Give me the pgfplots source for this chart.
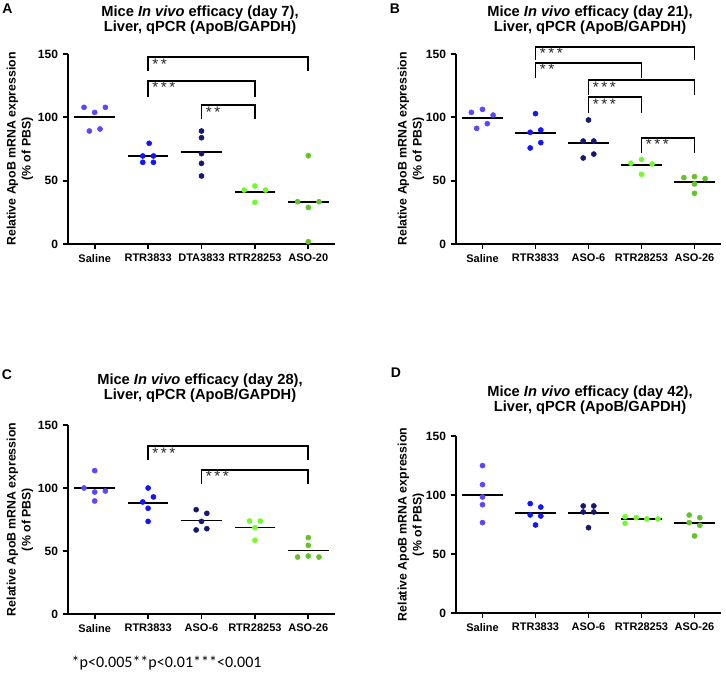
\documentclass[border=0pt]{standalone}
\usepackage{pgfplots}
\pgfplotsset{compat=1.18}
\usepackage{fontspec}
\setmainfont{Liberation Sans}
\newfontfamily\calibri{Carlito}
\definecolor{cSal}{RGB}{90,70,255}
\definecolor{cRTR}{RGB}{20,20,250}
\definecolor{cNavy}{RGB}{22,22,115}
\definecolor{cLG}{RGB}{115,250,45}
\definecolor{cG}{RGB}{100,195,40}
\pgfplotsset{
 panel/.style={scale only axis, anchor=south west,
  xmin=-0.5, xmax=4.5, ymin=0, ymax=150,
  ytick={0,50,100,150}, xtick={0,1,2,3,4},
  axis x line*=bottom, axis y line*=left,
  axis line style={-, line width=1.5pt},
  tick style={black, line width=1.3pt}, major tick length=4pt, tick align=outside,
  clip=false,
  /pgf/number format/assume math mode=true,
  yticklabel style={font=\bfseries\fontsize{9}{10}\selectfont},
  xticklabel style={font=\bfseries\fontsize{8.25}{9}\selectfont},
  ylabel={Relative ApoB mRNA expression\\(\% of PBS)},
  ylabel style={font=\bfseries\fontsize{9.25}{11.25}\selectfont, align=center,
     at={(axis description cs:-0.18,0.5)}, anchor=center},
 },
 dots/.style={only marks, mark=*, mark size=1.9pt, color=#1, mark options={draw=#1, fill=#1}},
 mean/.style={black, line width=1.3pt, mark=none},
 br/.style={black, line width=1.4pt, mark=none},
}
\newcommand\stars[3]{\node[anchor=north west, inner sep=1pt, xshift=2pt, font=\fontsize{11.5}{11.5}\selectfont, text=black!85] at (axis cs:#1,#2) {#3};}
\tikzset{ttl/.style={align=center, font=\bfseries\fontsize{11}{11.25}\selectfont}}
\newcommand\ttl[1]{Mice \textit{In vivo} efficacy (day #1),\\Liver, qPCR (ApoB/GAPDH)}
\begin{document}
\begin{tikzpicture}
\path[use as bounding box] (0,0) rectangle (544.5pt,-505.5pt);
% panel labels and titles
\node[font=\bfseries\fontsize{10.5}{11}\selectfont] at (5.6pt,-6.4pt) {A};
\node[font=\bfseries\fontsize{10.5}{11}\selectfont] at (296.25pt,-6.75pt) {B};
\node[font=\bfseries\fontsize{10.5}{11}\selectfont] at (5.25pt,-281.25pt) {C};
\node[font=\bfseries\fontsize{10.5}{11}\selectfont] at (297pt,-279.75pt) {D};
\node[ttl] at (150pt,-15.4pt) {\ttl{7}};
\node[ttl] at (442.5pt,-15.4pt) {\ttl{21}};
\node[ttl] at (150pt,-291pt) {\ttl{28}};
\node[ttl] at (442.5pt,-300pt) {\ttl{42}};
\node[anchor=west, font=\calibri\fontsize{12}{13}\selectfont] at (50.25pt,-497.25pt) {*p<0.005**p<0.01***<0.001};

% ---------------- Panel A
\begin{axis}[panel, at={(51pt,-183pt)}, width=200.25pt, height=142.5pt,
  xticklabels={Saline,RTR3833,DTA3833,RTR28253,ASO-20}]
\addplot[dots=cSal] coordinates {(-0.2,107.9) (0,103.9) (0.2,107.9) (-0.1,89.2) (0.1,90.8)};
\addplot[dots=cRTR] coordinates {(1.02,79.5) (0.9,69.5) (1.1,69.5) (0.9,64.5) (1.1,64.5)};
\addplot[dots=cNavy] coordinates {(2,89.2) (2,83.9) (2,71.3) (2,63.7) (2,53.7)};
\addplot[dots=cLG] coordinates {(2.8,42.6) (3,45.8) (3.2,42.6) (3,32.9)};
\addplot[dots=cG] coordinates {(4,69.7) (3.8,33.4) (4.2,33.4) (4,28.9) (4,1.8)};
\addplot[mean] coordinates {(-0.38,100) (0.38,100)};
\addplot[mean] coordinates {(0.62,69.5) (1.38,69.5)};
\addplot[mean] coordinates {(1.62,72.4) (2.38,72.4)};
\addplot[mean] coordinates {(2.62,41) (3.38,41)};
\addplot[mean] coordinates {(3.62,33.4) (4.38,33.4)};
\addplot[br] coordinates {(1,136.8) (1,147.4) (4,147.4) (4,136.8)};
\addplot[br] coordinates {(1,116.3) (1,128.9) (3,128.9) (3,116.3)};
\addplot[br] coordinates {(2,98.4) (2,109.7) (3,109.7) (3,98.4)};
\stars{1}{147.4}{*\,*}
\stars{1}{128.9}{*\,*\,*}
\stars{2}{109.7}{*\,*}
\end{axis}

% ---------------- Panel B
\begin{axis}[panel, at={(342pt,-183pt)}, width=198.75pt, height=142.5pt,
  xticklabels={Saline,RTR3833,ASO-6,RTR28253,ASO-26},
  ylabel style={at={(axis description cs:-0.17,0.5)}}]
\addplot[dots=cSal] coordinates {(-0.21,103.9) (0,106.3) (0.2,101.8) (-0.11,91.3) (0.09,95)};
\addplot[dots=cRTR] coordinates {(1,102.9) (0.9,88.2) (1.1,90) (0.9,75.8) (1.1,80)};
\addplot[dots=cNavy] coordinates {(2,97.9) (1.9,81.3) (2.1,81.3) (1.9,67.9) (2.1,71)};
\addplot[dots=cLG] coordinates {(2.8,63.8) (3,66.8) (3.2,63.2) (3,55)};
\addplot[dots=cG] coordinates {(3.8,52.4) (4,53.2) (4.2,51.6) (4,47.4) (4,40)};
\addplot[mean] coordinates {(-0.38,99.7) (0.38,99.7)};
\addplot[mean] coordinates {(0.62,87.4) (1.38,87.4)};
\addplot[mean] coordinates {(1.62,79.9) (2.38,79.9)};
\addplot[mean] coordinates {(2.62,62.2) (3.38,62.2)};
\addplot[mean] coordinates {(3.62,48.9) (4.38,48.9)};
\addplot[br] coordinates {(1,145.3) (1,155.8) (4,155.8) (4,145.3)};
\addplot[br] coordinates {(1,131.3) (1,143.2) (3,143.2) (3,131.3)};
\addplot[br] coordinates {(2,117.6) (2,129.5) (4,129.5) (4,117.6)};
\addplot[br] coordinates {(2,103.7) (2,115.8) (3,115.8) (3,103.7)};
\addplot[br] coordinates {(3,72.1) (3,83.9) (4,83.9) (4,72.1)};
\stars{1}{155.8}{*\,*\,*}
\stars{1}{143.2}{*\,*}
\stars{2}{129.5}{*\,*\,*}
\stars{2}{115.8}{*\,*\,*}
\stars{3}{83.9}{*\,*\,*}
\end{axis}

% ---------------- Panel C
\begin{axis}[panel, at={(51pt,-460.5pt)}, width=200.25pt, height=141.75pt,
  xticklabels={Saline,RTR3833,ASO-6,RTR28253,ASO-26}]
\addplot[dots=cSal] coordinates {(0,113.8) (-0.2,100) (0,96.8) (0.2,97.6) (0,89.7)};
\addplot[dots=cRTR] coordinates {(1,100) (0.9,88.9) (1.1,92.9) (1,83.9) (1,73.5)};
\addplot[dots=cNavy] coordinates {(1.9,82.8) (2.1,79.9) (2,73.5) (1.9,66.7) (2.1,67.7)};
\addplot[dots=cLG] coordinates {(2.9,73.8) (3.1,73.8) (3,68.5) (3,58.5)};
\addplot[dots=cG] coordinates {(4,60.6) (4,54.5) (3.8,45.2) (4,46) (4.2,45.2)};
\addplot[mean] coordinates {(-0.38,100) (0.38,100)};
\addplot[mean] coordinates {(0.62,88) (1.38,88)};
\addplot[mean] coordinates {(1.62,74.2) (2.38,74.2)};
\addplot[mean] coordinates {(2.62,68.7) (3.38,68.7)};
\addplot[mean] coordinates {(3.62,50.4) (4.38,50.4)};
\addplot[br] coordinates {(1,122.5) (1,133.3) (4,133.3) (4,122.5)};
\addplot[br] coordinates {(2,102.9) (2,114.6) (4,114.6) (4,102.9)};
\stars{1}{133.3}{*\,*\,*}
\stars{2}{114.6}{*\,*\,*}
\end{axis}

% ---------------- Panel D
\begin{axis}[panel, at={(342pt,-459.75pt)}, width=198.75pt, height=132.75pt,
  xticklabels={Saline,RTR3833,ASO-6,RTR28253,ASO-26},
  ylabel style={at={(axis description cs:-0.17,0.5)}}]
\addplot[dots=cSal] coordinates {(0,124.9) (0,108.8) (0,98.3) (0,91.8) (0,76.6)};
\addplot[dots=cRTR] coordinates {(0.9,92.7) (1.1,89.8) (0.9,83.1) (1.1,82.2) (1,74.6)};
\addplot[dots=cNavy] coordinates {(1.9,90.7) (2.1,90.7) (1.9,85.6) (2.1,85.6) (2,72.3)};
\addplot[dots=cLG] coordinates {(2.69,81.6) (2.9,80.8) (3.1,79.7) (3.31,79.7) (2.69,76)};
\addplot[dots=cG] coordinates {(3.9,83) (4.1,80.8) (3.9,76.6) (4.1,74.3) (4,65.3)};
\addplot[mean] coordinates {(-0.38,100) (0.38,100)};
\addplot[mean] coordinates {(0.62,84.6) (1.38,84.6)};
\addplot[mean] coordinates {(1.62,85) (2.38,85)};
\addplot[mean] coordinates {(2.62,79.5) (3.38,79.5)};
\addplot[mean] coordinates {(3.62,76.1) (4.38,76.1)};
\end{axis}
\end{tikzpicture}
\end{document}
